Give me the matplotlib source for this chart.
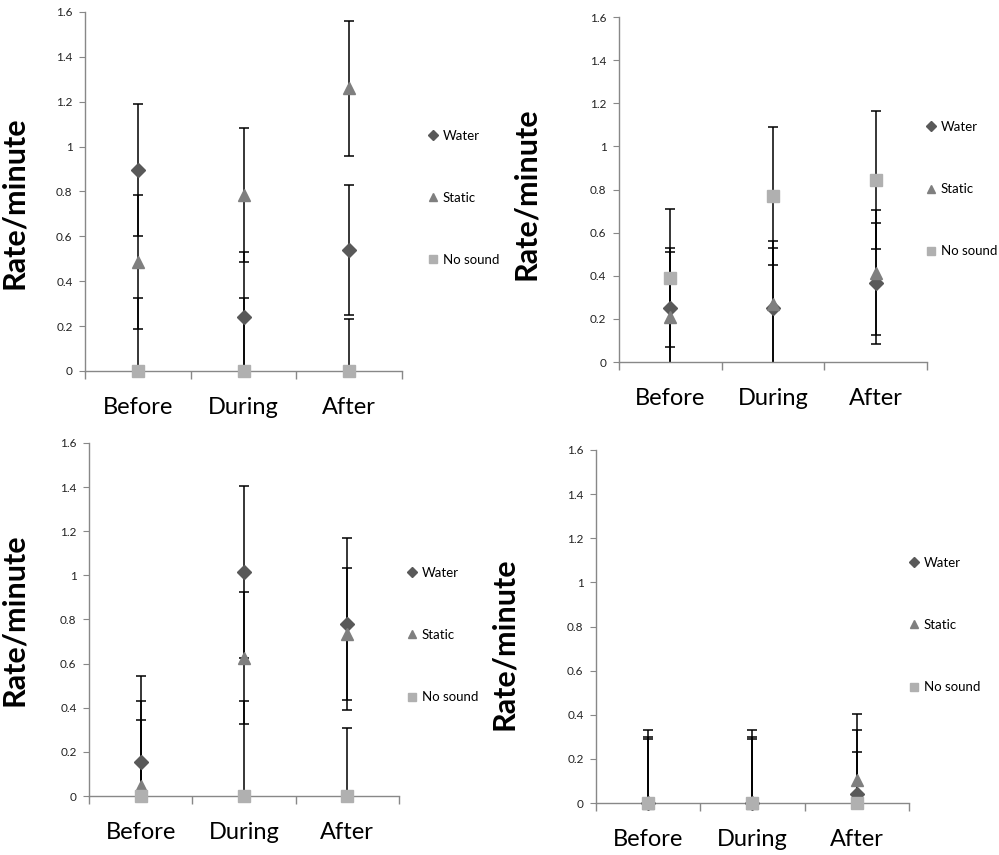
import numpy as np
import matplotlib.pyplot as plt

plt.rcParams['font.family'] = ['Lato', 'DejaVu Sans']

categories = ['Before', 'During', 'After']
series_names = ['Water', 'Static', 'No sound']

# top left
p1_water = [0.895, 0.24, 0.54]
p1_water_err = [0.295, 0.29, 0.29]
p1_static = [0.485, 0.785, 1.26]
p1_static_err = [0.30, 0.30, 0.30]
p1_nosound = [0, 0, 0]
p1_nosound_err = [0.325, 0.325, 0.23]

# top right
p2_water = [0.25, 0.25, 0.365]
p2_water_err = [0.28, 0.28, 0.28]
p2_static = [0.21, 0.27, 0.415]
p2_static_err = [0.30, 0.29, 0.29]
p2_nosound = [0.39, 0.77, 0.845]
p2_nosound_err = [0.32, 0.32, 0.32]

# bottom left
p3_water = [0.155, 1.015, 0.78]
p3_water_err = [0.39, 0.39, 0.39]
p3_static = [0.045, 0.625, 0.735]
p3_static_err = [0.30, 0.30, 0.30]
p3_nosound = [0, 0, 0]
p3_nosound_err = [0.43, 0.43, 0.31]

# bottom right
p4_water = [0, 0, 0.04]
p4_water_err = [0.29, 0.29, 0.29]
p4_static = [0, 0, 0.105]
p4_static_err = [0.30, 0.30, 0.30]
p4_nosound = [0, 0, 0]
p4_nosound_err = [0.33, 0.33, 0.23]

panels = [
    (p1_water, p1_water_err, p1_static, p1_static_err, p1_nosound, p1_nosound_err),
    (p2_water, p2_water_err, p2_static, p2_static_err, p2_nosound, p2_nosound_err),
    (p3_water, p3_water_err, p3_static, p3_static_err, p3_nosound, p3_nosound_err),
    (p4_water, p4_water_err, p4_static, p4_static_err, p4_nosound, p4_nosound_err),
]

# axes rects in figure fraction, ylabel coords, legend anchor
rects = [
    [0.0851, 0.5661, 0.3173, 0.4199],
    [0.6196, 0.5766, 0.3083, 0.4035],
    [0.0891, 0.0690, 0.3103, 0.4129],
    [0.5966, 0.0608, 0.3133, 0.4129],
]
ylab_pos = [(-0.18, 0.468), (-0.256, 0.487), (-0.197, 0.50), (-0.249, 0.45)]
leg_pos = [(1.082, 0.482), (0.997, 0.501), (1.026, 0.456), (1.0, 0.504)]

markers = ['D', '^', 's']
msizes = [7, 9, 8.5]
colors = ['#595959', '#7f7f7f', '#b0b0b0']

fig = plt.figure(figsize=(9.99, 8.55), dpi=100)
x = np.arange(len(categories)) + 0.5

for i, data in enumerate(panels):
    ax = fig.add_axes(rects[i])
    vals = [data[0], data[2], data[4]]
    errs = [data[1], data[3], data[5]]
    for j in range(3):
        ax.errorbar(x, vals[j], yerr=errs[j], fmt='none', ecolor='black',
                    elinewidth=1.1, capsize=3.5, capthick=1.1, zorder=2)
    for j in range(3):
        ax.plot(x, vals[j], linestyle='none', marker=markers[j], ms=msizes[j],
                color=colors[j], label=series_names[j], clip_on=False, zorder=3)

    ax.set_xlim(0, 3)
    ax.set_ylim(0, 1.6)
    ax.set_yticks(np.arange(0, 1.61, 0.2))
    ax.set_yticklabels(['0', '0.2', '0.4', '0.6', '0.8', '1', '1.2', '1.4', '1.6'])
    ax.set_xticks(x)
    ax.set_xticklabels(categories, fontsize=17)
    ax.set_xticks([0, 1, 2, 3], minor=True)
    ax.tick_params(axis='x', which='major', length=0, pad=19)
    ax.tick_params(axis='x', which='minor', length=6, color='#888888', width=1)
    ax.tick_params(axis='y', length=4, color='#888888', labelsize=8.5, pad=5,
                   labelcolor='#222222')
    for s in ['top', 'right']:
        ax.spines[s].set_visible(False)
    for s in ['left', 'bottom']:
        ax.spines[s].set_color('#888888')
        ax.spines[s].set_linewidth(1)

    ax.set_ylabel('Rate/minute', fontsize=22, fontweight='bold')
    ax.yaxis.set_label_coords(*ylab_pos[i])

    ax.legend(loc='center left', bbox_to_anchor=leg_pos[i], frameon=False,
              fontsize=9.5, labelspacing=3.8, handlelength=0.8, handletextpad=0.3,
              borderpad=0, borderaxespad=0, markerscale=0.7)

fig.savefig('out.png', dpi=100)
